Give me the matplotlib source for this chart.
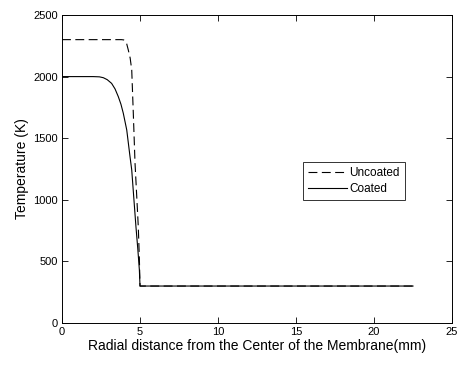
import matplotlib
matplotlib.use("Agg")
import matplotlib.pyplot as plt

plt.rcParams['font.family'] = ['Liberation Sans', 'DejaVu Sans']

# Uncoated (dashed)
unc_x = [0, 1, 2, 3, 3.8, 3.95, 4.05, 4.15, 4.25, 4.37, 4.47, 4.57, 4.68, 4.79, 4.89, 4.96, 5.0, 10, 15, 20, 22.5]
unc_t = [2300, 2300, 2300, 2300, 2300, 2298, 2290, 2265, 2216, 2150, 2054, 1705, 1300, 1030, 782, 520, 300, 300, 300, 300, 300]

# Coated (solid)
coa_x = [0, 1, 2, 2.4, 2.65, 2.9, 3.18, 3.4, 3.61, 3.78, 3.93, 4.15, 4.36, 4.47, 4.6, 4.74, 4.86, 4.96, 5.0, 10, 15, 20, 22.5]
coa_t = [2000, 2000, 2000, 1998, 1991, 1975, 1945, 1900, 1837, 1775, 1702, 1567, 1350, 1242, 1020, 782, 600, 430, 300, 300, 300, 300, 300]

fig = plt.figure(figsize=(4.6, 3.65), dpi=100)
ax = fig.add_axes([62/460, 1-323/365, (452-62)/460, (323-15)/365])

ax.plot(unc_x, unc_t, color='black', linestyle=(0, (8, 4)), linewidth=0.8, label='Uncoated')
ax.plot(coa_x, coa_t, color='black', linestyle='-', linewidth=0.8, label='Coated')

ax.set_xlim(0, 25)
ax.set_ylim(0, 2500)
ax.set_xticks([0, 5, 10, 15, 20, 25])
ax.set_yticks([0, 500, 1000, 1500, 2000, 2500])
ax.tick_params(direction='in', top=True, right=True, labelsize=8, length=4, width=0.6, pad=3)
for s in ax.spines.values():
    s.set_linewidth(0.7)

ax.set_xlabel('Radial distance from the Center of the Membrane(mm)', fontsize=10, labelpad=1)
ax.set_ylabel('Temperature (K)', fontsize=10, labelpad=3)

leg = ax.legend(loc='upper left', bbox_to_anchor=((303-62)/390, 1-(162-15)/308),
                fontsize=8.5, frameon=True, fancybox=False, edgecolor='black',
                handlelength=3.3, handletextpad=0.15, borderpad=0.45, labelspacing=0.3,
                borderaxespad=0)
leg.get_frame().set_linewidth(0.7)

fig.savefig('out.png', dpi=100)
